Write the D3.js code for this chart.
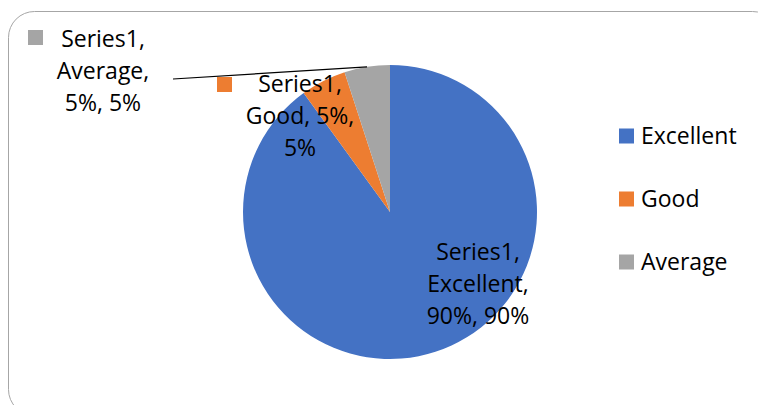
<!DOCTYPE html>
<html>
<head>
<meta charset="utf-8">
<script src="https://cdn.jsdelivr.net/npm/d3@7"></script>
<style>
  html, body { margin: 0; padding: 0; background: #fff; }
  svg { display: block; font-family: "Open Sans", Lato, sans-serif; }
</style>
</head>
<body>
<svg id="chart" width="758" height="405"></svg>
<script>
// ----------------------------
// Data
// ----------------------------
const seriesName = "Series1";
const categories = ["Excellent", "Good", "Average"];
const values = [90, 5, 5];
const colors = ["#4472C4", "#ED7D31", "#A5A5A5"];

// label placement (layout only): center x, first baseline y, lines
const labelLayout = [
  { cx: 478, y: 260, key: false, lines: [`${seriesName},`, "Excellent,", "90%, 90%"] },
  { cx: 300, y: 92, key: true, keyX: 217, keyY: 77, lines: [`${seriesName},`, "Good, 5%,", "5%"] },
  { cx: 103, y: 47, key: true, keyX: 28, keyY: 30, lines: [`${seriesName},`, "Average,", "5%, 5%"], leader: [173, 79] }
];

// ----------------------------
// Plotting
// ----------------------------
function drawPie(svgId) {
  const svg = d3.select(svgId);
  svg.selectAll("*").remove();

  // chart area border (runs past the window on the right and bottom)
  svg.append("rect")
      .attr("x", 8.5)
      .attr("y", 11.5)
      .attr("width", 770)
      .attr("height", 404)
      .attr("rx", 26)
      .attr("fill", "#fff")
      .attr("stroke", "#a6a6a6")
      .attr("stroke-width", 1);

  const cx = 390, cy = 212, radius = 147;

  const pie = d3.pie().sort(null).value(d => d.value);
  const arcs = pie(categories.map((c, i) => ({ name: c, value: values[i], color: colors[i] })));
  const arc = d3.arc().innerRadius(0).outerRadius(radius);

  const g = svg.append("g").attr("transform", `translate(${cx},${cy})`);

  g.selectAll("path.slice")
    .data(arcs)
    .join("path")
      .attr("class", "slice")
      .attr("d", arc)
      .attr("fill", d => d.data.color);

  // Data labels
  const lineH = 32;
  arcs.forEach((a, i) => {
    const lay = labelLayout[i];
    if (lay.leader) {
      const mid = (a.startAngle + a.endAngle) / 2;
      svg.append("line")
          .attr("x1", lay.leader[0])
          .attr("y1", lay.leader[1])
          .attr("x2", cx + radius * Math.sin(mid))
          .attr("y2", cy - radius * Math.cos(mid))
          .attr("stroke", "#000")
          .attr("stroke-width", 1.2);
    }
    if (lay.key) {
      svg.append("rect")
          .attr("x", lay.keyX)
          .attr("y", lay.keyY)
          .attr("width", 15)
          .attr("height", 15)
          .attr("fill", a.data.color);
    }
    const t = svg.append("text")
        .attr("text-anchor", "middle")
        .attr("font-size", 23)
        .attr("fill", "#000");
    lay.lines.forEach((ln, k) => {
      t.append("tspan")
          .attr("x", lay.cx)
          .attr("y", lay.y + k * lineH)
          .text(ln);
    });
  });

  // Legend
  const legY = d3.scalePoint().domain(categories).range([136, 262]);
  const leg = svg.append("g");
  categories.forEach((c, i) => {
    leg.append("rect")
        .attr("x", 619)
        .attr("y", legY(c) - 7.5)
        .attr("width", 15)
        .attr("height", 15)
        .attr("fill", colors[i]);
    leg.append("text")
        .attr("x", 641)
        .attr("y", legY(c) + 7.5)
        .attr("font-size", 23)
        .attr("fill", "#000")
        .text(c);
  });
}

window.addEventListener("load", () => drawPie("#chart"));
</script>
</body>
</html>
